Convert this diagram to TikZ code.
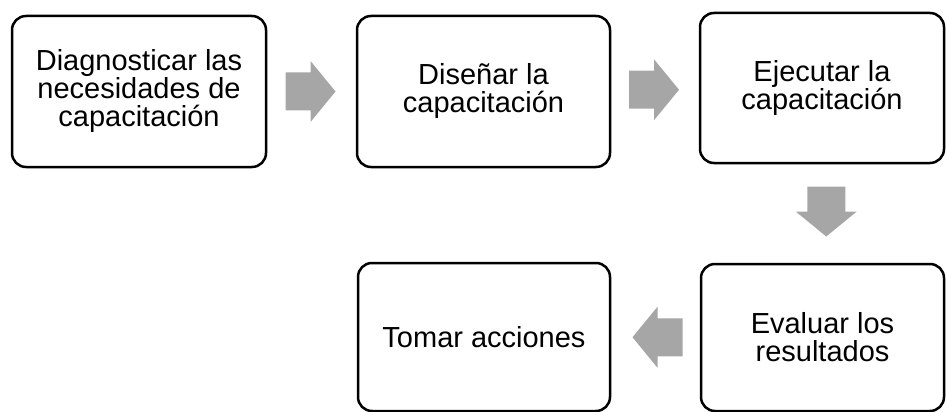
\documentclass[tikz,border=0pt]{standalone}
\usepackage{fontspec}
\setmainfont{Liberation Sans}
\definecolor{arrowgray}{HTML}{A6A6A6}
\tikzset{
  stepbox/.style={draw=black, line width=2.5pt, rounded corners=14pt, fill=white,
    align=center, inner sep=0pt, font=\fontsize{29}{28}\selectfont},
  blockarrow/.pic={
    \fill[arrowgray] (-25,-19) -- (0,-19) -- (0,-30.5) -- (25,0) -- (0,30.5) -- (0,19) -- (-25,19) -- cycle;
  }
}
\begin{document}
\begin{tikzpicture}[x=1pt,y=-1pt]
\useasboundingbox (0,0) rectangle (946,412);
\node[stepbox, minimum width=254pt, minimum height=151pt] (b1) at (139,91.5) {Diagnosticar las\\necesidades de\\capacitación};
\node[stepbox, minimum width=253pt, minimum height=151pt] (b2) at (483.5,91.5) {Diseñar la\\capacitación};
\node[stepbox, minimum width=244pt, minimum height=150pt] (b3) at (822,88) {Ejecutar la\\capacitación};
\node[stepbox, minimum width=243pt, minimum height=147pt] (b4) at (822.5,337.5) {Evaluar los\\resultados};
\node[stepbox, minimum width=252pt, minimum height=148pt] (b5) at (484,337) {Tomar acciones};
\path (b1.east) -- (b2.west) coordinate[pos=0.5] (m1);
\path (b2.east) -- (b3.west) coordinate[pos=0.5] (m2);
\path (b3.south) -- (b4.north) coordinate[pos=0.5] (m3);
\path (b4.west) -- (b5.east) coordinate[pos=0.5] (m4);
\pic at ([xshift=-1pt]m1) {blockarrow};
\pic at ([xshift=-1pt]m2) {blockarrow};
\pic[rotate=-90] at ([xshift=4pt,yshift=2pt]m3) {blockarrow};
\pic[rotate=180] at ([xshift=2pt]m4) {blockarrow};
\end{tikzpicture}
\end{document}
